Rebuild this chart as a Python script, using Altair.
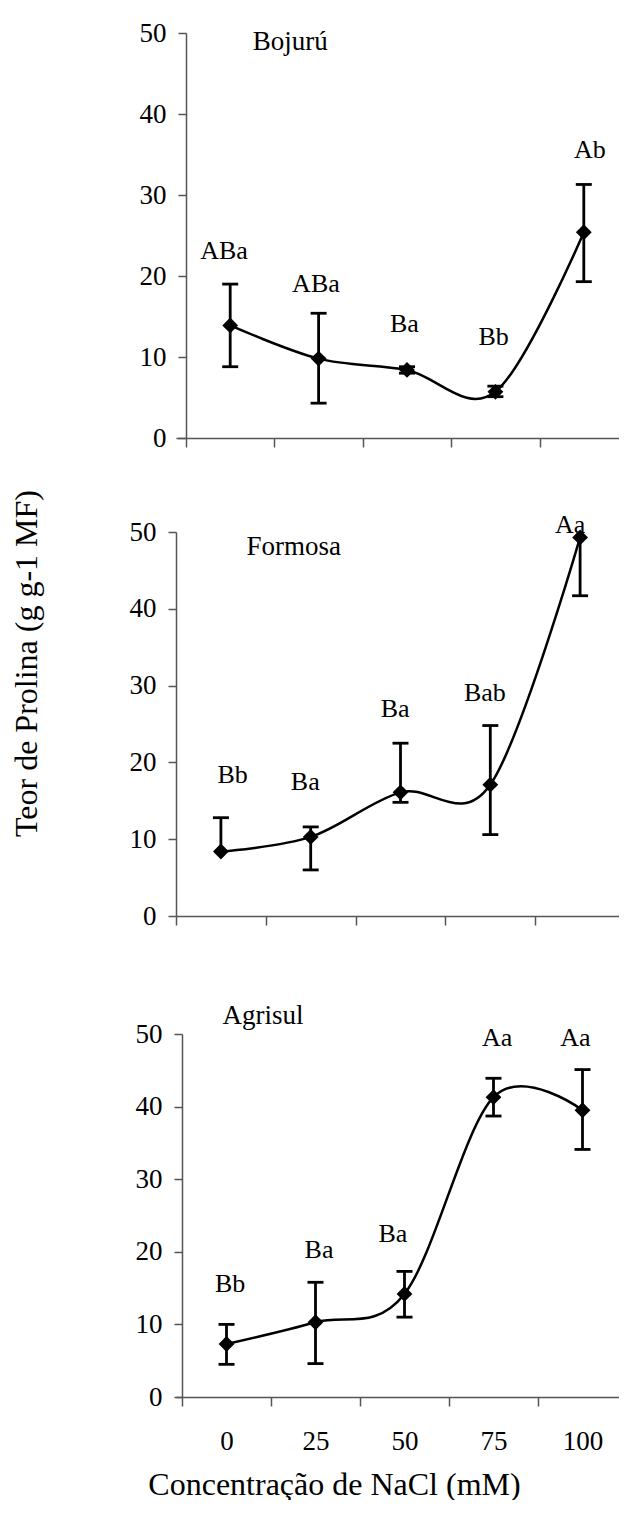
import altair as alt
import pandas as pd

# ---------------- data ----------------
conc_labels = ["0", "25", "50", "75", "100"]
idx = [0, 1, 2, 3, 4]

boj_mean = [13.9, 9.8, 8.4, 5.7, 25.4]
boj_upper = [19.0, 15.4, 8.8, 6.4, 31.3]
boj_lower = [8.8, 4.3, 8.0, 5.1, 19.3]
boj_letters = ["ABa", "ABa", "Ba", "Bb", "Ab"]
boj_letter_x = [-0.07, 0.97, 1.97, 2.98, 4.07]
boj_letter_y = [23.1, 19.0, 14.1, 12.5, 35.5]

for_mean = [8.4, 10.3, 16.1, 17.1, 49.3]
for_upper = [12.8, 11.6, 22.5, 24.8, None]
for_lower = [None, 6.0, 14.8, 10.6, 41.7]
for_letters = ["Bb", "Ba", "Ba", "Bab", "Aa"]
for_letter_x = [0.13, 0.94, 1.94, 2.94, 3.89]
for_letter_y = [18.4, 17.5, 27.0, 29.0, 50.9]

agr_mean = [7.3, 10.3, 14.2, 41.3, 39.5]
agr_upper = [10.0, 15.8, 17.3, 43.9, 45.1]
agr_lower = [4.5, 4.6, 11.0, 38.7, 34.1]
agr_letters = ["Bb", "Ba", "Ba", "Aa", "Aa"]
agr_letter_x = [0.04, 1.04, 1.87, 3.04, 3.92]
agr_letter_y = [15.6, 20.3, 22.4, 49.4, 49.4]

names = ["Bojurú", "Formosa", "Agrisul"]
name_x = [0.68, 0.81, 0.41]
name_y = [48.9, 48.0, 52.5]

y_ticks = [0, 10, 20, 30, 40, 50]
x_bounds = [i - 0.5 for i in idx]  # category boundaries inside the visible range

FONT = "Liberation Serif"
TXT = 26

label_expr = "%s[round(datum.value + 0.5)]" % (
    "[" + ",".join("'%s'" % c for c in conc_labels) + "]")

yscale = alt.Scale(domain=[0, 50], nice=False)

GROUP_LEFT = 176   # common left edge of the panels
GROUP_RIGHT = 619  # keep the page from overflowing horizontally


def panel(k, mean, upper, lower, letters, lx, ly, axis_x, cat_w, h, bottom=False, ytitle=False):
    shift = axis_x - GROUP_LEFT
    width = GROUP_RIGHT - GROUP_LEFT
    xscale = alt.Scale(domain=[-0.5 - shift / cat_w, -0.5 + (GROUP_RIGHT - axis_x) / cat_w],
                       nice=False, zero=False)
    lo = [l if l is not None else m for l, m in zip(lower, mean)]
    hi = [u if u is not None else m for u, m in zip(upper, mean)]
    df = pd.DataFrame({"i": idx, "m": mean, "lo": lo, "hi": hi})
    caps_up = pd.DataFrame({"i": [i for i, u in zip(idx, upper) if u is not None],
                            "v": [u for u in upper if u is not None]})
    caps_lo = pd.DataFrame({"i": [i for i, l in zip(idx, lower) if l is not None],
                            "v": [l for l in lower if l is not None]})
    lab = pd.DataFrame({"x": lx, "y": ly, "t": letters})
    nm = pd.DataFrame({"x": [name_x[k]], "y": [name_y[k]], "t": [names[k]]})

    if bottom:
        xaxis = alt.Axis(values=x_bounds, labelExpr=label_expr, labelOffset=cat_w / 2,
                         labelFlush=False, labelPadding=22, labelFontSize=TXT + 1,
                         title="Concentração de NaCl (mM)", titleX=334 - GROUP_LEFT, titleY=97,
                         titleAlign="center", titleBaseline="alphabetic",
                         titleFontSize=32)
    else:
        xaxis = alt.Axis(values=x_bounds, labels=False, title=None)
    if ytitle:
        yaxis = alt.Axis(values=y_ticks, title="Teor de Prolina (g g-1 MF)", offset=-shift,
                         titleX=-150, titleY=131, titleAngle=270, titleAlign="center",
                         titleBaseline="middle", titleFontSize=32)
    else:
        yaxis = alt.Axis(values=y_ticks, title=None, offset=-shift)

    def X(f):
        return alt.X(f, scale=xscale, axis=xaxis)

    def Y(f):
        return alt.Y(f, scale=yscale, axis=yaxis)

    line = alt.Chart(df).mark_line(interpolate="cardinal", color="black", strokeWidth=2.5).encode(
        x=X("i:Q"), y=Y("m:Q"))
    rule = alt.Chart(df).mark_rule(color="black", strokeWidth=2.8).encode(
        x=X("i:Q"), y=Y("lo:Q"), y2="hi:Q")
    cu = alt.Chart(caps_up).mark_tick(orient="horizontal", size=16, thickness=2.8, color="black",
                                      opacity=1).encode(x=X("i:Q"), y=Y("v:Q"))
    cl = alt.Chart(caps_lo).mark_tick(orient="horizontal", size=16, thickness=2.8, color="black",
                                      opacity=1).encode(x=X("i:Q"), y=Y("v:Q"))
    pts = alt.Chart(df).mark_point(shape="diamond", filled=True, size=250, color="black",
                                   opacity=1).encode(x=X("i:Q"), y=Y("m:Q"))
    txt = alt.Chart(lab).mark_text(font=FONT, fontSize=TXT, color="black", baseline="middle",
                                   align="center").encode(x=X("x:Q"), y=Y("y:Q"), text="t:N")
    ntx = alt.Chart(nm).mark_text(font=FONT, fontSize=TXT + 1, color="black", baseline="middle",
                                  align="center").encode(x=X("x:Q"), y=Y("y:Q"), text="t:N")
    return alt.layer(line, rule, cu, cl, pts, txt, ntx).properties(width=width, height=h)


def spacer(w, h):
    return alt.Chart(pd.DataFrame({"s": [0]})).mark_point(opacity=0).encode(
        x=alt.value(0), y=alt.value(0)).properties(width=w, height=h)


p1 = panel(0, boj_mean, boj_upper, boj_lower, boj_letters, boj_letter_x, boj_letter_y,
           186, 88.4, 405)
p2 = panel(1, for_mean, for_upper, for_lower, for_letters, for_letter_x, for_letter_y,
           176, 89.8, 384, ytitle=True)
p3 = panel(2, agr_mean, agr_upper, agr_lower, agr_letters, agr_letter_x, agr_letter_y,
           182, 89.0, 363, bottom=True)

chart = alt.vconcat(p1, spacer(1, 94), p2, spacer(1, 118), p3, spacing=0, bounds="flush").properties(
    padding={"left": 2, "top": 11, "right": 0, "bottom": 0}
).configure_view(strokeWidth=0).configure_axis(
    grid=False, domainColor="#555555", domainWidth=1.5, tickColor="#555555", tickWidth=1.5,
    tickSize=8, labelFont=FONT, titleFont=FONT, labelFontSize=TXT + 1, labelColor="black",
    titleColor="black", titleFontWeight="normal", labelPadding=12
).configure_axisX(tickSize=9)

chart.save("out.html", embed_options={"renderer": "svg", "actions": False})
